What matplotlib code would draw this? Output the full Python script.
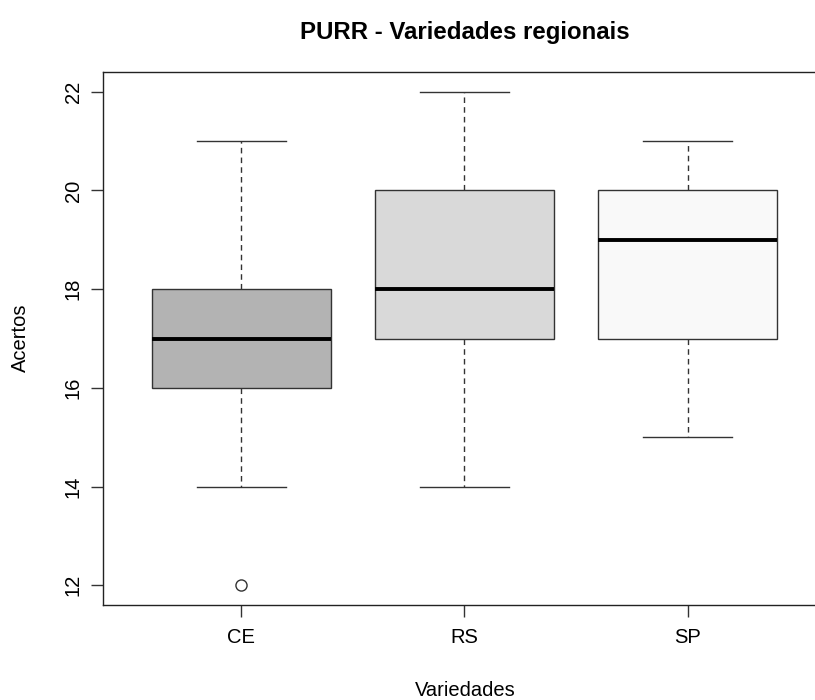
"""PURR - boxplot of regional varieties, R base-graphics look."""
import matplotlib
matplotlib.use("Agg")
import matplotlib.pyplot as plt

plt.rcParams["font.family"] = ["Liberation Sans", "DejaVu Sans"]

groups = ["CE", "RS", "SP"]
whislo = [14, 14, 15]
q1 = [16, 17, 17]
med = [17, 18, 19]
q3 = [18, 20, 20]
whishi = [21, 22, 21]
outliers = [[12], [], []]
fills = ["#b3b3b3", "#d9d9d9", "#f9f9f9"]

stats = [dict(label=g, whislo=lo, q1=a, med=m, q3=b, whishi=hi, fliers=f)
         for g, lo, a, m, b, hi, f in zip(groups, whislo, q1, med, q3, whishi, outliers)]

fig = plt.figure(figsize=(8.15, 7), dpi=100)
# plot region; right edge falls just outside the picture, as in the reference
ax = fig.add_axes([103 / 815, 95 / 700, 723 / 815, 533 / 700])

bp = ax.bxp(stats, positions=[1, 2, 3], widths=0.8, patch_artist=True,
            showfliers=True,
            boxprops=dict(edgecolor="#333333", linewidth=1.0),
            medianprops=dict(color="black", linewidth=2.8, solid_capstyle="butt"),
            whiskerprops=dict(color="#333333", linewidth=1.0, linestyle=(0, (4, 3))),
            capprops=dict(color="#333333", linewidth=1.0),
            capwidths=0.4,
            flierprops=dict(marker="o", markerfacecolor="none",
                            markeredgecolor="#333333", markersize=8,
                            markeredgewidth=1.0))
for patch, c in zip(bp["boxes"], fills):
    patch.set_facecolor(c)

ax.set_xlim(0.38, 3.62)
ax.set_ylim(11.6, 22.4)
ax.set_yticks([12, 14, 16, 18, 20, 22])
ax.set_xticks([1, 2, 3])
ax.set_xticklabels(groups)
for lab in ax.get_yticklabels():
    lab.set_rotation(90)
    lab.set_va("center")
ax.tick_params(axis="both", length=8.5, width=1.0, color="#333333",
               labelsize=14.5, pad=8)
ax.tick_params(axis="y", pad=6)
for s in ax.spines.values():
    s.set_linewidth(1.0)
    s.set_color("#222222")

fig.text(465 / 815, 1 - 33 / 700, "PURR - Variedades regionais",
         ha="center", va="center", fontsize=17.3, fontweight="bold")
fig.text(465 / 815, 1 - 690 / 700, "Variedades", ha="center", va="center",
         fontsize=14.5)
fig.text(20 / 815, 1 - 338 / 700, "Acertos", ha="center", va="center",
         fontsize=14.5, rotation=90)

fig.savefig("out.png", dpi=100)
